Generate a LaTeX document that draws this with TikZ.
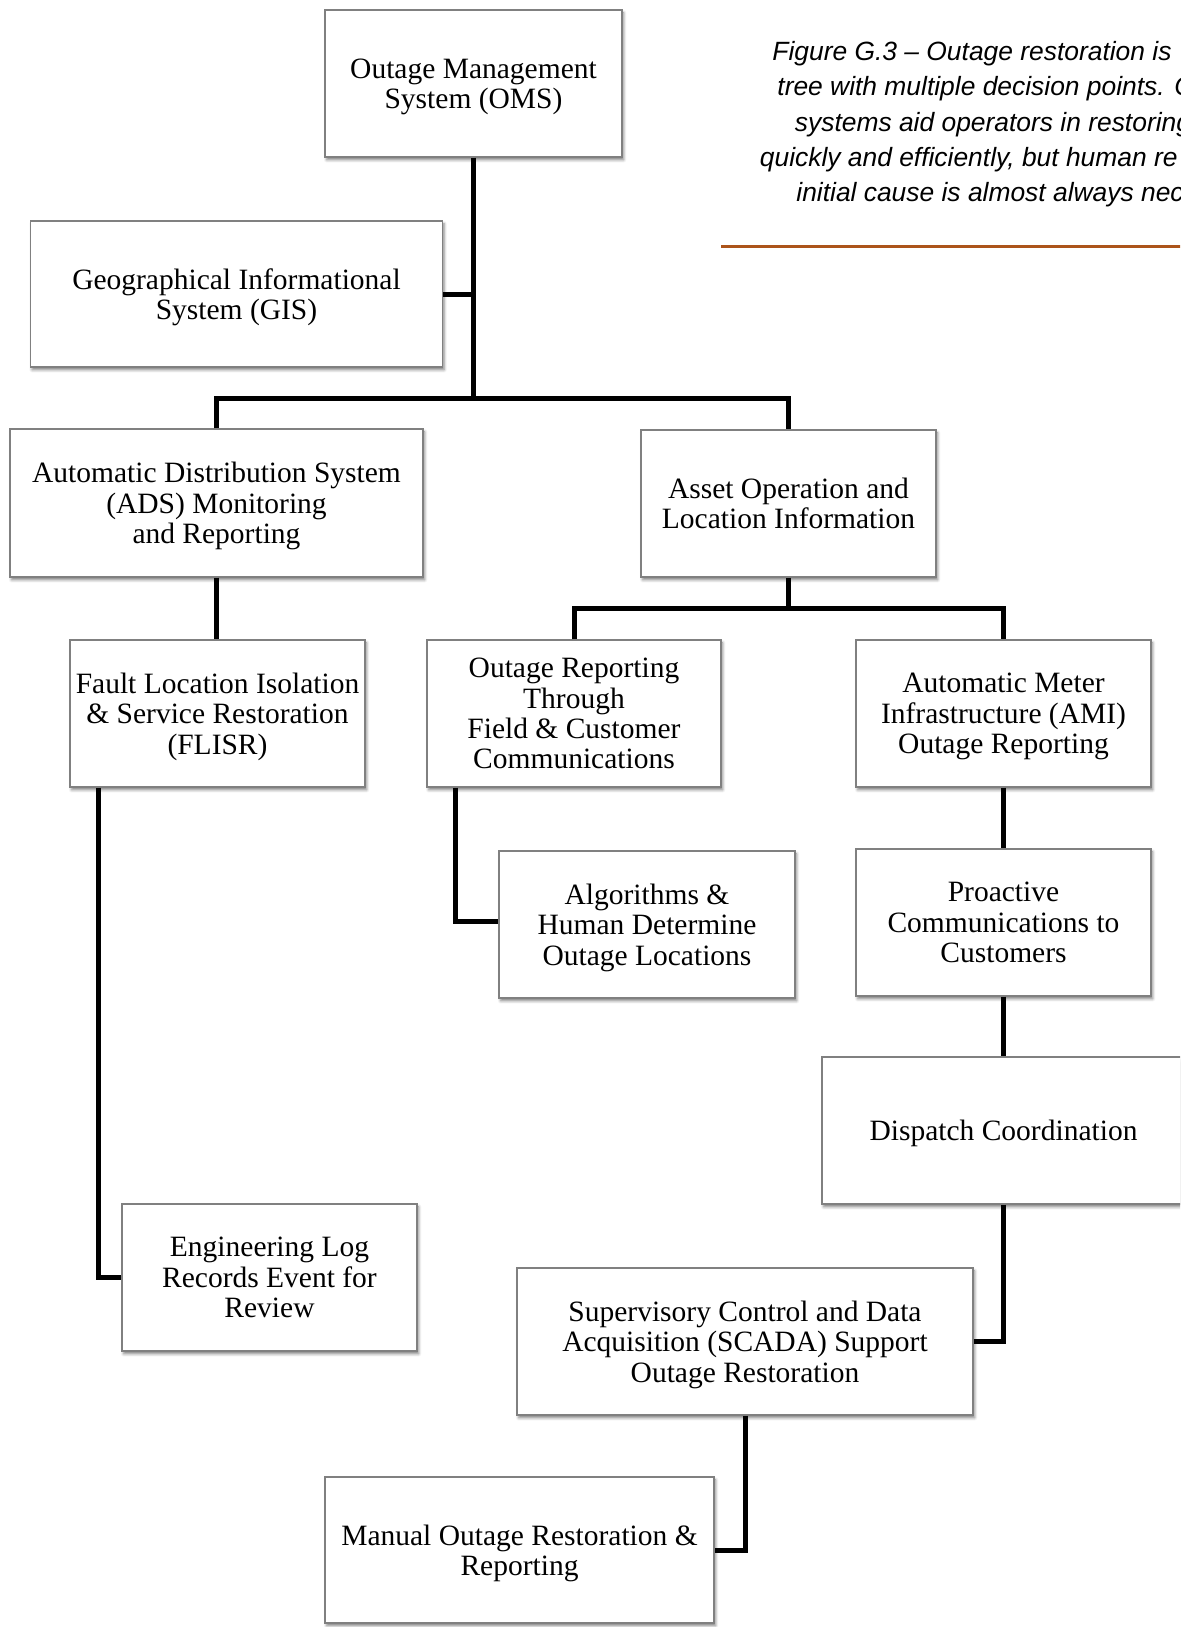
\documentclass[tikz,border=0pt]{standalone}
\usepackage{fontspec}
\setmainfont{Liberation Serif}
\newfontfamily\capfont{Liberation Sans}
\usetikzlibrary{shadows.blur}
\definecolor{capline}{RGB}{172,84,26}
\begin{document}
\begin{tikzpicture}[x=0.5pt,y=-0.5pt,
  box/.style={draw=black!50, line width=0.6pt, fill=white, align=center, inner sep=0pt,
    font=\fontsize{14.75}{15.2}\selectfont, text depth=0pt,
    blur shadow={shadow xshift=0.8pt, shadow yshift=-1.4pt, shadow blur radius=1.4pt, shadow opacity=50}},
  conn/.style={line width=2.5pt, line join=miter},
  captxt/.style={anchor=base west, inner sep=0pt, font=\capfont\itshape\fontsize{13.2}{17.6}\selectfont}]
\useasboundingbox (0,0) rectangle (1180,1627);
\clip (0,0) rectangle (1180,1627);

% caption
\node[captxt] (cap1) at (772,60.7) {Figure G.3 – Outage restoration is};
\node[captxt] (cap2) at (777,96) {tree with multiple decision points. C};
\node[captxt] (cap3) at (794.5,131.3) {systems aid operators in restoring};
\node[captxt] (cap4) at (759.5,166.6) {quickly and efficiently, but human re};
\node[captxt] (cap5) at (796,201.9) {initial cause is almost always nec};
\draw[capline, line width=1.2pt] (721,246.5) -- (1185,246.5);

% boxes
\node[box, minimum width=148.5pt, minimum height=73.5pt] (oms) at (473.5,83.5) {Outage Management\\System (OMS)};
\node[box, minimum width=206pt, minimum height=73pt] (gis) at (236.5,294) {Geographical Informational\\System (GIS)};
\node[box, minimum width=206.5pt, minimum height=74pt] (ads) at (216.5,503) {Automatic Distribution System\\(ADS) Monitoring\\and Reporting};
\node[box, minimum width=147.5pt, minimum height=73.5pt] (asset) at (788.5,503.5) {Asset Operation and\\Location Information};
\node[box, minimum width=147.5pt, minimum height=73.5pt] (flisr) at (217.5,713.5) {Fault Location Isolation\\\& Service Restoration\\(FLISR)};
\node[box, minimum width=147pt, minimum height=73.5pt] (outrep) at (574,713.5) {Outage Reporting\\Through\\Field \& Customer\\Communications};
\node[box, minimum width=147.5pt, minimum height=73.5pt] (ami) at (1003.5,713.5) {Automatic Meter\\Infrastructure (AMI)\\Outage Reporting};
\node[box, minimum width=148pt, minimum height=73.5pt] (alg) at (647,924.5) {Algorithms \&\\Human Determine\\Outage Locations};
\node[box, minimum width=147.5pt, minimum height=73.5pt] (pro) at (1003.5,922.5) {Proactive\\Communications to\\Customers};
\node[box, text height=10.2pt, minimum width=181.5pt, minimum height=73.5pt] (disp) at (1003.5,1130.5) {Dispatch Coordination};
\node[box, minimum width=147.5pt, minimum height=73.5pt] (eng) at (269.5,1277.5) {Engineering Log\\Records Event for\\Review};
\node[box, minimum width=228pt, minimum height=73.5pt] (scada) at (745,1341.5) {Supervisory Control and Data\\Acquisition (SCADA) Support\\Outage Restoration};
\node[box, minimum width=194.5pt, minimum height=73pt] (manual) at (519.5,1550) {Manual Outage Restoration \&\\Reporting};

% connectors
\coordinate (j1) at (473.5,398);
\coordinate (j2) at (788.5,608);
\draw[conn] (oms.south) -- (j1);
\draw[conn] (gis.east) -- (gis.east -| j1);
\draw[conn] (ads.north) |- (j1) -| (asset.north);
\draw[conn] (ads.south) -- (ads.south |- flisr.north);
\draw[conn] (asset.south) -- (j2);
\draw[conn] (outrep.north) |- (j2) -| (ami.north);
\draw[conn] ([xshift=14.3pt]flisr.south west) |- (eng.west);
\draw[conn] ([xshift=14.3pt]outrep.south west) |- ([yshift=1.5pt]alg.west);
\draw[conn] (ami.south) -- (pro.north);
\draw[conn] (pro.south) -- (disp.north);
\draw[conn] (disp.south) |- (scada.east);
\draw[conn] (scada.south) |- (manual.east);
\end{tikzpicture}
\end{document}
